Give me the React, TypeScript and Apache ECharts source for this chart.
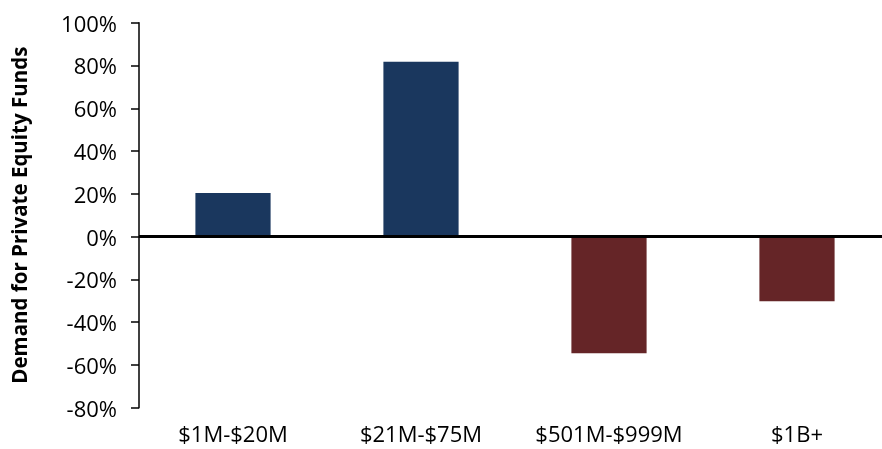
import React, { useEffect, useRef } from "react";
import * as echarts from "echarts";

const categories = ["$1M-$20M", "$21M-$75M", "$501M-$999M", "$1B+"];
const demandValues = [20.4, 81.8, -54.5, -30.2];
const yTicks = { min: -80, max: 100, interval: 20 };
const positiveColor = "#1a375e";
const negativeColor = "#652527";

export default function App() {
  const ref = useRef<HTMLDivElement>(null);
  useEffect(() => {
    if (!ref.current) return;
    const chart = echarts.init(ref.current, null, { renderer: "svg" });
    const font = "'Open Sans', 'Noto Sans', sans-serif";
    chart.setOption({
      animation: false,
      grid: { left: 134.5, top: 22.7, bottom: 41.3, right: 0, containLabel: false },
      xAxis: {
        type: "category",
        data: categories,
        axisLine: { show: false, onZero: false },
        axisTick: { show: false },
        axisLabel: {
          color: "#000",
          fontSize: 22,
          fontFamily: font,
          margin: 14,
          interval: 0,
        },
        splitLine: { show: false },
      },
      yAxis: {
        type: "value",
        min: yTicks.min,
        max: yTicks.max,
        interval: yTicks.interval,
        name: "Demand for Private Equity Funds",
        nameLocation: "middle",
        nameGap: 110,
        nameTextStyle: { color: "#000", fontSize: 20.5, fontWeight: "bold", fontFamily: font },
        axisLine: { show: true, lineStyle: { color: "#000", width: 1.5 } },
        axisTick: { show: true, length: 8, lineStyle: { color: "#000", width: 1.5 } },
        axisLabel: {
          color: "#000",
          fontSize: 22,
          fontFamily: font,
          margin: 22,
          formatter: (v: number) => `${v}%`,
        },
        splitLine: { show: false },
      },
      series: [
        {
          type: "bar",
          data: demandValues.map((v) => ({
            value: v,
            itemStyle: { color: v >= 0 ? positiveColor : negativeColor },
          })),
          barWidth: "40%",
          markLine: {
            silent: true,
            symbol: "none",
            label: { show: false },
            lineStyle: { color: "#000", width: 3, type: "solid" },
            data: [{ yAxis: 0 }],
          },
        },
      ],
    });
    return () => chart.dispose();
  }, []);
  return (
    <div style={{ position: "fixed", left: 0, top: 0, width: 882, height: 449, overflow: "hidden" }}>
      <div ref={ref} style={{ width: 891, height: 449 }} />
    </div>
  );
}
